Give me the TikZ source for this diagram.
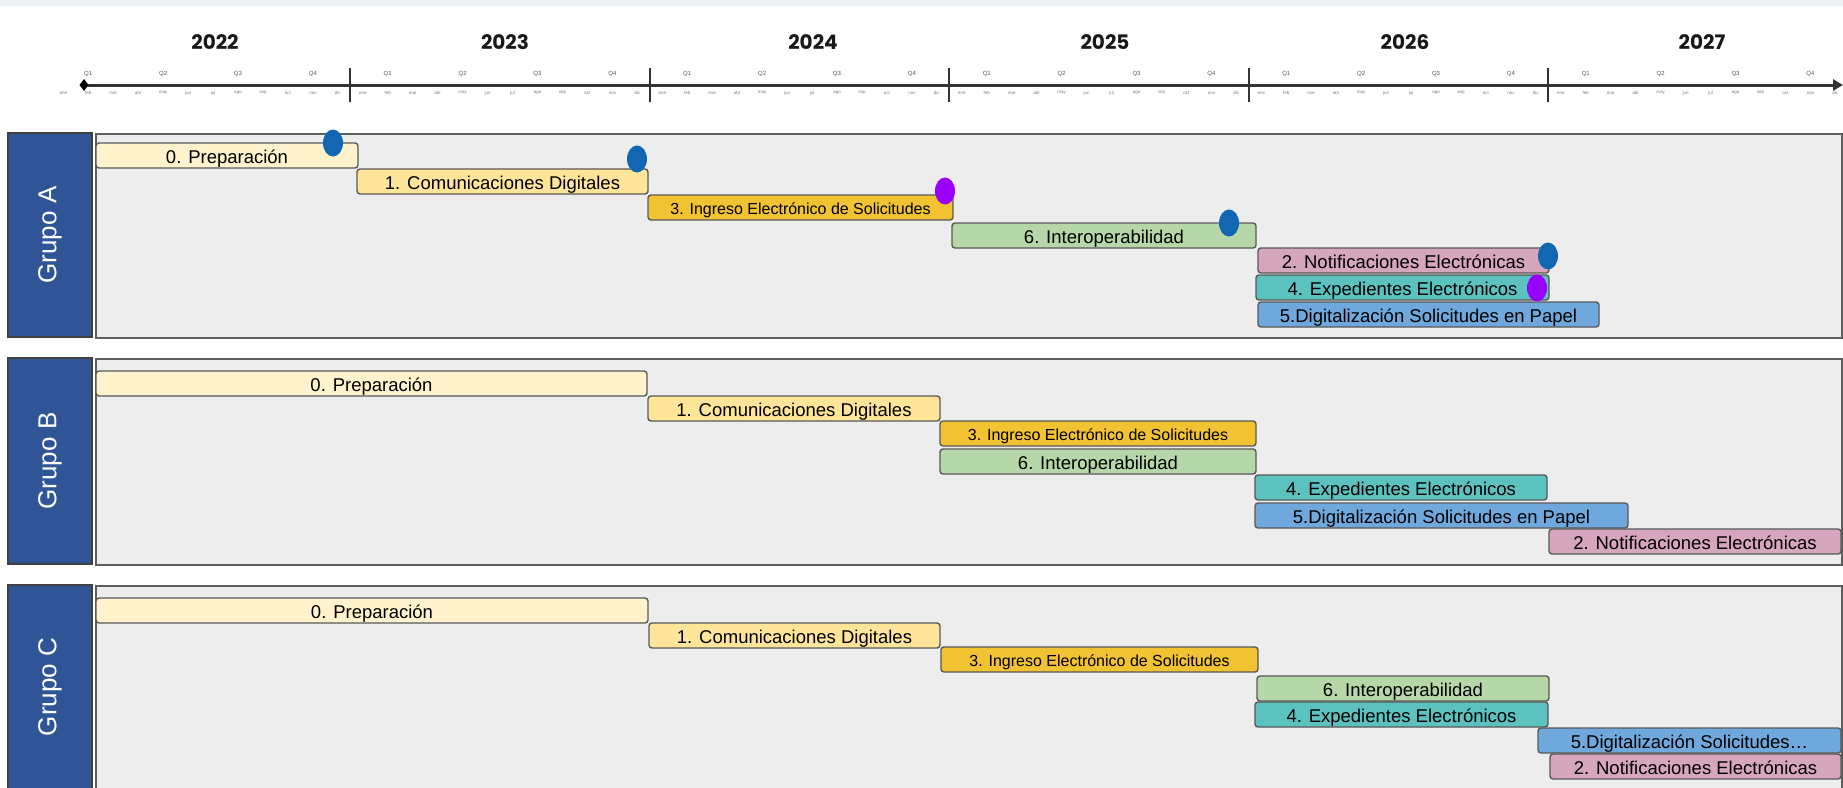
\documentclass[tikz,border=0pt]{standalone}
\usepackage{fontspec}
\setmainfont{Liberation Sans}
\newfontfamily\yearfont{Poppins}
\usetikzlibrary{shapes.geometric,arrows.meta}
\definecolor{bandc}{HTML}{EEF2F7}
\definecolor{axisc}{HTML}{333333}
\definecolor{qc}{HTML}{555555}
\definecolor{mc}{HTML}{7A7A7A}
\definecolor{grpblue}{HTML}{2F5597}
\definecolor{grpline}{HTML}{404040}
\definecolor{framebg}{HTML}{EDEDED}
\definecolor{frameline}{HTML}{5F5F5F}
\definecolor{barline}{HTML}{595959}
\definecolor{colPrep}{HTML}{FFF2CC}
\definecolor{colCom}{HTML}{FFE599}
\definecolor{colIng}{HTML}{F1C232}
\definecolor{colInt}{HTML}{B6D7A8}
\definecolor{colNot}{HTML}{D5A6BD}
\definecolor{colExp}{HTML}{5BC2BF}
\definecolor{colDig}{HTML}{6FA8DC}
\definecolor{msblue}{HTML}{1167B1}
\definecolor{mspurple}{HTML}{9900FF}
\tikzset{
  bar/.style={draw=barline, line width=1.4pt, rounded corners=3pt, inner sep=0pt, outer sep=0pt,
    minimum height=25pt, anchor=north west, text=black,
    font=\fontsize{18.5}{20}\selectfont, text height=16.3pt, text depth=0pt},
  smallbar/.style={bar, font=\fontsize{16}{18}\selectfont, text height=14.4pt},
  msnode/.style={ellipse, inner sep=0pt, outer sep=0pt, minimum width=20pt, minimum height=27pt},
  grplbl/.style={draw=grpline, fill=grpblue, line width=1.5pt, inner sep=0pt, rotate=90,
    minimum width=204pt, minimum height=84pt, text=white, font=\fontsize{26}{28}\selectfont},
  framebox/.style={draw=frameline, fill=framebg, line width=1.5pt, inner sep=0pt, anchor=north west,
    minimum width=1746pt, minimum height=204pt},
  yearlbl/.style={font=\yearfont\bfseries\fontsize{20}{22}\selectfont, text=black!90, inner sep=0pt},
  qlbl/.style={font=\fontsize{6}{7}\selectfont, text=qc, inner sep=0pt},
  mlbl/.style={font=\fontsize{4.5}{5}\selectfont, text=mc, inner sep=0pt},
  axisline/.style={draw=axisc, line width=3pt},
  divider/.style={draw=axisc, line width=2pt}
}
\begin{document}
\begin{tikzpicture}[x=1pt,y=-1pt]
\useasboundingbox (0,0) rectangle (1843,787);
\fill[bandc] (0,0) rectangle (1843,6);

% ---------- timeline ----------
\node[yearlbl] (y2022) at (215,42) {2022};
\node[yearlbl] (y2023) at (505,42) {2023};
\node[yearlbl] (y2024) at (813,42) {2024};
\node[yearlbl] (y2025) at (1105,42) {2025};
\node[yearlbl] (y2026) at (1405,42) {2026};
\node[yearlbl] (y2027) at (1702,42) {2027};

\foreach \yr [count=\i from 0] in {2022,2023,2024,2025,2026,2027} {
  \foreach \q in {1,2,3,4} {
    \node[qlbl] (q\yr\q) at ({50.8+\i*299.5+(\q-0.5)*74.875},74) {Q\q};
  }
  \foreach \mname [count=\k from 0] in {ene,feb,mar,abr,may,jun,jul,ago,sep,oct,nov,dic} {
    \node[mlbl] (m\yr\k) at ({50.8+\i*299.5+(\k+0.5)*24.96},93) {\mname};
  }
}
\foreach \i in {1,2,3,4,5} {
  \draw[divider] ({50.8+\i*299.5},68) -- ({50.8+\i*299.5},102);
}
\coordinate (axL) at (84,85);
\coordinate (axR) at (1843,85);
\draw[axisline, -{Triangle[length=10pt,width=11pt]}] (axL) -- (axR);
\fill[black] (79.5,85) -- (84,79) -- (88.5,85) -- (84,91) -- cycle;

% ---------- Grupo A ----------
\node[framebox] (fA) at (95,133) {};
\node[grplbl] (gA) at (50,235) {Grupo A};
\node[bar, fill=colPrep, minimum width=262pt] (a0) at (96,143) {0. Preparación};
\node[bar, fill=colCom, minimum width=291pt] (a1) at (357,169) {1. Comunicaciones Digitales};
\node[smallbar, fill=colIng, minimum width=305pt] (a3) at (648,195) {3. Ingreso Electrónico de Solicitudes};
\node[bar, fill=colInt, minimum width=304pt] (a6) at (952,223) {6. Interoperabilidad};
\node[bar, fill=colNot, minimum width=291pt] (a2) at (1258,248) {2. Notificaciones Electrónicas};
\node[bar, fill=colExp, minimum width=293pt] (a4) at (1256,275) {4. Expedientes Electrónicos};
\node[bar, fill=colDig, minimum width=341pt] (a5) at (1258,302) {5.Digitalización Solicitudes en Papel};
\node[msnode, fill=msblue] (ma0) at (333,143) {};
\node[msnode, fill=msblue] (ma1) at (637,159) {};
\node[msnode, fill=mspurple] (ma3) at (945,191) {};
\node[msnode, fill=msblue] (ma6) at (1229,223) {};
\node[msnode, fill=msblue] (ma2) at (1548,256) {};
\node[msnode, fill=mspurple] (ma4) at (1537,288) {};

% ---------- Grupo B ----------
\node[framebox, minimum height=206pt] (fB) at (95,358) {};
\node[grplbl, minimum width=206pt] (gB) at (50,461) {Grupo B};
\node[bar, fill=colPrep, minimum width=551pt] (b0) at (96,371) {0. Preparación};
\node[bar, fill=colCom, minimum width=292pt] (b1) at (648,396) {1. Comunicaciones Digitales};
\node[smallbar, fill=colIng, minimum width=316pt] (b3) at (940,421) {3. Ingreso Electrónico de Solicitudes};
\node[bar, fill=colInt, minimum width=316pt] (b6) at (940,449) {6. Interoperabilidad};
\node[bar, fill=colExp, minimum width=292pt] (b4) at (1255,475) {4. Expedientes Electrónicos};
\node[bar, fill=colDig, minimum width=373pt] (b5) at (1255,503) {5.Digitalización Solicitudes en Papel};
\node[bar, fill=colNot, minimum width=292pt] (b2) at (1549,529) {2. Notificaciones Electrónicas};

% ---------- Grupo C ----------
\node[framebox] (fC) at (95,585) {};
\node[grplbl] (gC) at (50,687) {Grupo C};
\node[bar, fill=colPrep, minimum width=552pt] (c0) at (96,598) {0. Preparación};
\node[bar, fill=colCom, minimum width=291pt] (c1) at (649,623) {1. Comunicaciones Digitales};
\node[smallbar, fill=colIng, minimum width=317pt] (c3) at (941,647) {3. Ingreso Electrónico de Solicitudes};
\node[bar, fill=colInt, minimum width=292pt] (c6) at (1257,676) {6. Interoperabilidad};
\node[bar, fill=colExp, minimum width=293pt] (c4) at (1255,702) {4. Expedientes Electrónicos};
\node[bar, fill=colDig, minimum width=303pt] (c5) at (1538,728) {5.Digitalización Solicitudes…};
\node[bar, fill=colNot, minimum width=291pt] (c2) at (1550,754) {2. Notificaciones Electrónicas};
\end{tikzpicture}
\end{document}
